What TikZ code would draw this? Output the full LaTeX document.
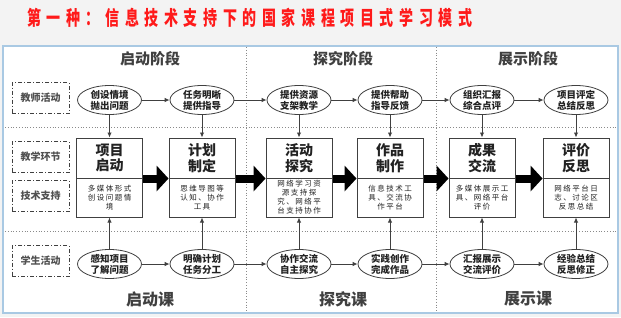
\documentclass[tikz,border=0pt]{standalone}
\usepackage{fontspec}
\setmainfont{Noto Sans CJK SC}
\usetikzlibrary{arrows.meta,calc,shapes.geometric}
\definecolor{bgc}{HTML}{F3F3F3}
\definecolor{panelb}{HTML}{A9C9E3}
\definecolor{ln}{HTML}{404040}
\definecolor{txt}{HTML}{222222}
\definecolor{hdrc}{HTML}{404040}
\definecolor{lbl}{HTML}{505050}
\definecolor{titler}{HTML}{FF1A1A}
\definecolor{dotc}{HTML}{8A8A8A}
\tikzset{
  ell/.style={ellipse, draw=ln, line width=0.8pt, fill=white, minimum width=64pt, minimum height=29pt,
    inner sep=0pt, align=center, font=\fontsize{9.5}{11}\selectfont\bfseries, text=txt},
  boxt/.style={rectangle, draw=ln, line width=1pt, fill=white, minimum width=66pt, minimum height=40pt,
    inner sep=0pt, align=center, font=\fontsize{14}{15.5}\selectfont\bfseries, text=txt},
  boxs/.style={rectangle, draw=ln, line width=1pt, fill=white, minimum width=66pt, minimum height=39pt,
    inner sep=0pt, align=center, font=\fontsize{7.5}{9}\selectfont\addfontfeature{LetterSpace=20}, text=txt},
  lab/.style={rectangle, draw=ln, dash pattern=on 4pt off 2pt on 1pt off 2pt, line width=0.8pt,
    minimum width=57pt, minimum height=31pt, inner sep=0pt, font=\fontsize{10}{10}\selectfont\bfseries, text=lbl},
  hdr/.style={font=\fontsize{15}{15}\selectfont\bfseries, text=hdrc, inner sep=0pt},
  thinarrow/.style={draw=ln, line width=0.9pt, -{Latex[length=5pt,width=4.5pt]}},
  sepline/.style={draw=dotc, line width=0.8pt, dotted},
}
\begin{document}
\begin{tikzpicture}[x=1pt,y=-1pt]
\useasboundingbox (0,0) rectangle (621,317);
\fill[bgc] (0,0) rectangle (621,317);
\draw[panelb, line width=1.5pt, fill=white] (3,46) rectangle (618,313);

% title
\begin{scope}[shift={(27,18)}]
\node[anchor=west, inner sep=0pt, text=titler, xscale=0.7, transform shape,
  font=\fontsize{20}{20}\selectfont\bfseries\addfontfeature{LetterSpace=40}] (title) at (0,0)
  {第一种：信息技术支持下的国家课程项目式学习模式};
\end{scope}

% separators
\draw[sepline] (5,127) -- (616,127);
\draw[sepline] (5,231) -- (616,231);
\draw[sepline] (246,47) -- (246,312);
\draw[sepline] (436,47) -- (436,312);

% headers
\node[hdr] (h1) at (150,59) {启动阶段};
\node[hdr] (h2) at (343,59) {探究阶段};
\node[hdr] (h3) at (528,59) {展示阶段};
\node[hdr, font=\fontsize{16}{16}\selectfont\bfseries] (k1) at (150,299) {启动课};
\node[hdr, font=\fontsize{16}{16}\selectfont\bfseries] (k2) at (343,299) {探究课};
\node[hdr, font=\fontsize{16}{16}\selectfont\bfseries] (k3) at (528,299) {展示课};

% row labels
\node[lab] (l1) at (40.5,98) {教师活动};
\node[lab] (l2) at (40.5,157) {教学环节};
\node[lab] (l3) at (40.5,196) {技术支持};
\node[lab] (l4) at (40.5,261) {学生活动};

% columns
\foreach \i/\x/\ta/\tb/\bt/\bs/\sa/\sb in {
  1/109.5/创设情境/抛出问题/项目\\启动/多媒体形式\\创设问题情\\境/感知项目/了解问题,
  2/202/任务明晰/提供指导/计划\\制定/思维导图等\\认知、协作\\工具/明确计划/任务分工,
  3/299/提供资源/支架教学/活动\\探究/网络学习资\\源支持探\\究、网络平\\台支持协作/协作交流/自主探究,
  4/390/提供帮助/指导反馈/作品\\制作/信息技术工\\具、交流协\\作平台/实践创作/完成作品,
  5/482/组织汇报/综合点评/成果\\交流/多媒体展示工\\具、网络平台\\评价/汇报展示/交流评价,
  6/576/项目评定/总结反思/评价\\反思/网络平台日\\志、讨论区\\反思总结/经验总结/反思修正}{
  \node[ell] (ea\i) at (\x,100) {\ta\\\tb};
  \node[boxt] (t\i) at (\x,158) {\bt};
  \node[boxs] (s\i) at (\x,197.5) {\bs};
  \node[ell] (eb\i) at (\x,264) {\sa\\\sb};
  \draw[thinarrow] (ea\i.south) -- (t\i.north);
  \draw[thinarrow] (eb\i.north) -- (s\i.south);
}

% horizontal connectors and big arrows
\foreach \i/\j in {1/2,2/3,3/4,4/5,5/6}{
  \draw[thinarrow] (ea\i.east) -- (ea\j.west);
  \draw[thinarrow] (eb\i.east) -- (eb\j.west);
  \draw[black, line width=8pt] (t\i.south east) -- ($(t\j.south west)+(-11,0)$);
  \fill[black] ($(t\j.south west)+(-12,-13)$) -- (t\j.south west) -- ($(t\j.south west)+(-12,13)$) -- cycle;
}
\end{tikzpicture}
\end{document}
